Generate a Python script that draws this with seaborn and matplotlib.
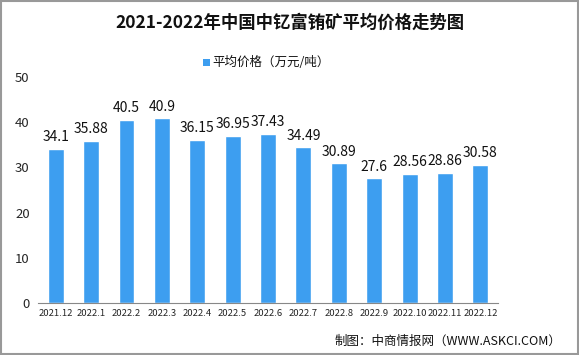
import matplotlib
matplotlib.use("Agg")
import matplotlib.pyplot as plt
import seaborn as sns
import pandas as pd
from matplotlib.patches import Rectangle

categories = ["2021.12", "2022.1", "2022.2", "2022.3", "2022.4", "2022.5", "2022.6",
              "2022.7", "2022.8", "2022.9", "2022.10", "2022.11", "2022.12"]
values = [34.1, 35.88, 40.5, 40.9, 36.15, 36.95, 37.43, 34.49, 30.89, 27.6, 28.56, 28.86, 30.58]
value_labels = ["34.1", "35.88", "40.5", "40.9", "36.15", "36.95", "37.43", "34.49",
                "30.89", "27.6", "28.56", "28.86", "30.58"]
tick_labels = ["2021.12", "2022.1", "2022.2", "2022.3", "2022.4", "2022.5", "2022.6",
               "2022.7", "2022.8", "2022.9", "2022.10", "2022.11", "2022.12"]
series_name = "平均价格（万元/吨）"
title = "2021-2022年中国中钇富铕矿平均价格走势图"
source = "制图：中商情报网（WWW.ASKCI.COM）"

sns.set_theme(style="white")
plt.rcParams['font.family'] = ['Noto Sans CJK SC', 'DejaVu Sans']

df = pd.DataFrame({"month": categories, "price": values, "series": series_name})

fig = plt.figure(figsize=(5.79, 3.55), dpi=100)
ax = fig.add_axes([38/579, 52/355, 460/579, 226/355])

color = "#3d9ef0"
sns.barplot(data=df, x="month", y="price", hue="series", palette=[color],
            width=0.45, ax=ax, legend=False, saturation=1)

ax.set_ylim(0, 50)
ax.set_xlim(-0.5, len(categories) - 0.5)
ax.set_yticks([0, 10, 20, 30, 40, 50])
ax.set_yticklabels(["0", "10", "20", "30", "40", "50"], fontsize=9.5)
ax.set_xticks(range(len(categories)))
ax.set_xticklabels(tick_labels, fontsize=6.8)
ax.tick_params(axis="x", length=0, pad=4)
ax.tick_params(axis="y", length=0, pad=6)
ax.set_xticks([i - 0.5 for i in range(len(categories) + 1)], minor=True)
ax.tick_params(axis="x", which="minor", length=4, color="#888888", width=0.8)
ax.set_xlabel("")
ax.set_ylabel("")
for s in ["top", "right", "left"]:
    ax.spines[s].set_visible(False)
ax.spines["bottom"].set_color("#888888")
ax.spines["bottom"].set_linewidth(0.8)

for i, (v, lab) in enumerate(zip(values, value_labels)):
    ax.text(i, v + 1.0, lab, ha="center", va="bottom", fontsize=10, color="#111111")

fig.text(0.5, 0.935, title, ha="center", va="center", fontsize=12.5, fontweight="bold", color="#111111")
fig.patches.append(Rectangle((203/579, 1 - 66/355), 7/579, 7/355, transform=fig.transFigure,
                             facecolor=color, edgecolor="none"))
fig.text(212/579, 1 - 62/355, series_name, ha="left", va="center", fontsize=9, color="#111111")
fig.text(0.97, 1 - 341/355, source, ha="right", va="center", fontsize=9, color="#111111")

fig.patches.append(Rectangle((0.001, 0.002), 0.997, 0.995, transform=fig.transFigure,
                             facecolor="none", edgecolor="#999999", linewidth=1.5))

fig.savefig("out.png", dpi=100)
